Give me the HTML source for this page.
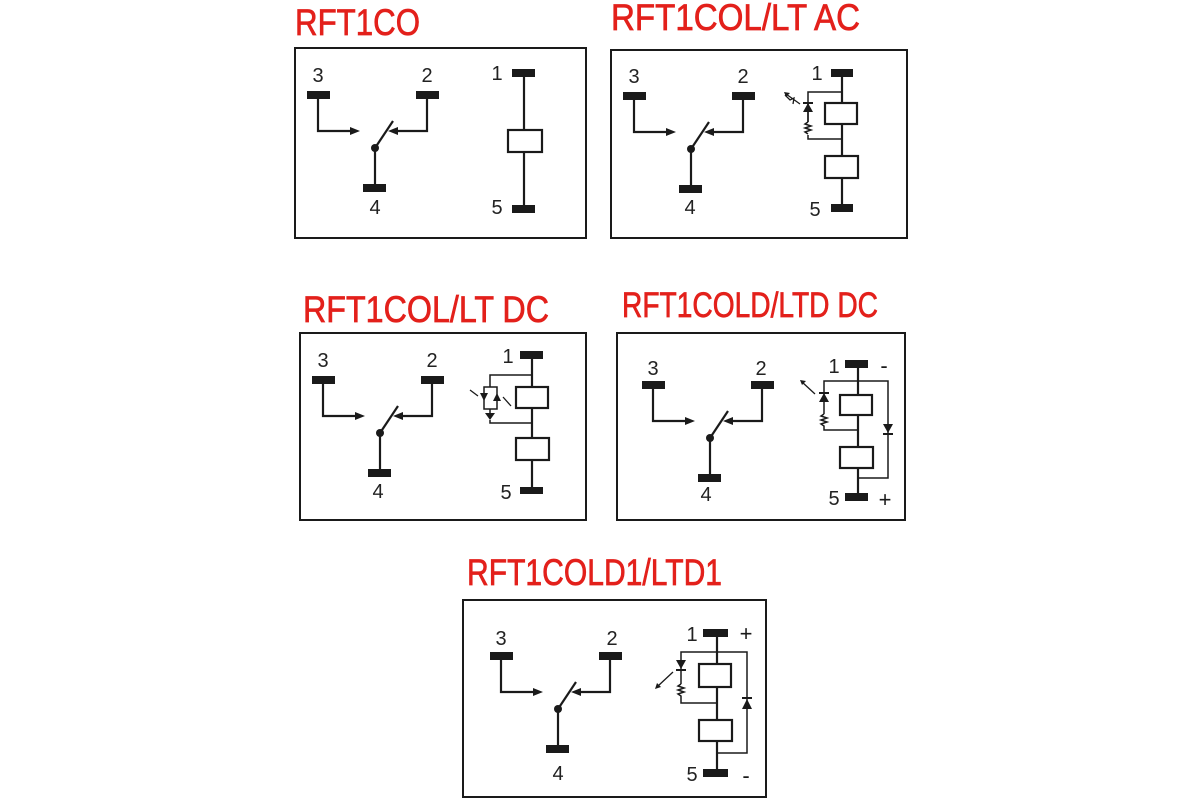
<!DOCTYPE html>
<html><head><meta charset="utf-8"><style>
html,body{margin:0;padding:0;background:#fff;width:1200px;height:800px;overflow:hidden}
svg{display:block}
.t{font-family:"Liberation Sans Narrow","Liberation Sans",sans-serif;fill:#e3201b;stroke:#e3201b;stroke-width:0.7}
.n{font-family:"Liberation Sans",sans-serif;font-size:20px;fill:#222}
.s{font-family:"Liberation Sans",sans-serif;font-size:22px;fill:#1a1a1a}
</style></head><body>
<svg width="1200" height="800" viewBox="0 0 1200 800" xmlns="http://www.w3.org/2000/svg">
<defs>
<g id="sw" stroke="#1a1a1a" stroke-width="2.2" fill="none">
  <rect x="0" y="0" width="23" height="8" fill="#1a1a1a" stroke="none"/>
  <rect x="109" y="0" width="23" height="8" fill="#1a1a1a" stroke="none"/>
  <polyline points="11,8 11,40 46,40"/>
  <polygon points="53,40 43,36 43,44" fill="#1a1a1a" stroke="none"/>
  <polyline points="120,8 120,40 88,40"/>
  <polygon points="81,40 91,36 91,44" fill="#1a1a1a" stroke="none"/>
  <line x1="68" y1="57" x2="86" y2="30"/>
  <circle cx="68" cy="57" r="4" fill="#1a1a1a" stroke="none"/>
  <line x1="68" y1="57" x2="68" y2="93"/>
  <rect x="56" y="93" width="23" height="8" fill="#1a1a1a" stroke="none"/>
</g>
<g id="led" stroke="#1a1a1a" stroke-width="1.5" fill="none">
  <polygon points="0,-5 -5,4 5,4" fill="#1a1a1a" stroke="none"/>
  <line x1="-5" y1="-5" x2="5" y2="-5" stroke-width="2"/>
</g>
</defs>

<text class="t" x="295" y="35" font-size="37" textLength="125" lengthAdjust="spacingAndGlyphs">RFT1CO</text>
<text class="t" x="611" y="30" font-size="37" textLength="249" lengthAdjust="spacingAndGlyphs">RFT1COL/LT AC</text>
<text class="t" x="303" y="322" font-size="37" textLength="246" lengthAdjust="spacingAndGlyphs">RFT1COL/LT DC</text>
<text class="t" x="622" y="317" font-size="35" textLength="256" lengthAdjust="spacingAndGlyphs">RFT1COLD/LTD DC</text>
<text class="t" x="467" y="585" font-size="37" textLength="255" lengthAdjust="spacingAndGlyphs">RFT1COLD1/LTD1</text>

<g fill="none" stroke="#1a1a1a" stroke-width="2">
<rect x="295" y="48" width="291" height="190"/>
<rect x="611" y="50" width="296" height="188"/>
<rect x="300" y="333" width="286" height="187"/>
<rect x="617" y="333" width="288" height="187"/>
<rect x="463" y="600" width="303" height="197"/>
</g>

<!-- Panel 1 -->
<use href="#sw" x="307" y="91"/>
<text class="n" x="318" y="82" text-anchor="middle">3</text>
<text class="n" x="427" y="82" text-anchor="middle">2</text>
<text class="n" x="375" y="214" text-anchor="middle">4</text>
<g stroke="#1a1a1a" stroke-width="2.2" fill="none">
<rect x="512" y="69" width="23" height="8" fill="#1a1a1a" stroke="none"/>
<line x1="524" y1="77" x2="524" y2="205"/>
<rect x="508" y="130" width="34" height="22" fill="#fff"/>
<rect x="512" y="205" width="23" height="8" fill="#1a1a1a" stroke="none"/>
</g>
<text class="n" x="497" y="80" text-anchor="middle">1</text>
<text class="n" x="497" y="214" text-anchor="middle">5</text>

<!-- Panel 2 -->
<use href="#sw" x="623" y="92"/>
<text class="n" x="634" y="83" text-anchor="middle">3</text>
<text class="n" x="743" y="83" text-anchor="middle">2</text>
<text class="n" x="690" y="214" text-anchor="middle">4</text>
<g stroke="#1a1a1a" stroke-width="2.2" fill="none">
<rect x="831" y="69" width="22" height="8" fill="#1a1a1a" stroke="none"/>
<line x1="842" y1="77" x2="842" y2="204"/>
<rect x="825" y="103" width="32" height="21" fill="#fff"/>
<rect x="825" y="156" width="33" height="22" fill="#fff"/>
<rect x="831" y="204" width="22" height="8" fill="#1a1a1a" stroke="none"/>
<polyline points="842,92 808,92 808,122" stroke-width="1.5"/>
<polyline points="808,135 808,139 842,139" stroke-width="1.5"/>
<polyline points="808,122 805,124 811,126 805,128 811,130 805,132 808,134" stroke-width="1.5"/>
<line x1="808" y1="104" x2="808" y2="122" stroke-width="1.5"/>
<use href="#led" x="808" y="108"/>
<path d="M800,104 L786,94 M793,104 L794,98 L790,100 L785,95" stroke-width="1.3"/>
<polygon points="784,92 790,93 786,97" fill="#1a1a1a" stroke="none"/>
</g>
<text class="n" x="817" y="80" text-anchor="middle">1</text>
<text class="n" x="815" y="216" text-anchor="middle">5</text>

<!-- Panel 3 -->
<use href="#sw" x="312" y="376"/>
<text class="n" x="323" y="367" text-anchor="middle">3</text>
<text class="n" x="432" y="367" text-anchor="middle">2</text>
<text class="n" x="378" y="498" text-anchor="middle">4</text>
<g stroke="#1a1a1a" stroke-width="2.2" fill="none">
<rect x="520" y="351" width="23" height="8" fill="#1a1a1a" stroke="none"/>
<line x1="532" y1="359" x2="532" y2="487"/>
<rect x="516" y="387" width="32" height="21" fill="#fff"/>
<rect x="516" y="438" width="33" height="22" fill="#fff"/>
<rect x="520" y="487" width="23" height="7" fill="#1a1a1a" stroke="none"/>
<polyline points="532,375 490,375 490,387" stroke-width="1.5"/>
<rect x="484" y="387" width="13" height="22" stroke-width="1.5"/>
<line x1="490" y1="409" x2="490" y2="413" stroke-width="1.5"/>
<polygon points="485,413 495,413 490,420" fill="#1a1a1a" stroke="none"/>
<polyline points="490,420 490,423 532,423" stroke-width="1.5"/>
<polygon points="484,401 480,393 488,393" fill="#1a1a1a" stroke="none"/>
<polygon points="497,393 493,401 501,401" fill="#1a1a1a" stroke="none"/>
<path d="M478,396 L470,390 M503,397 L511,406" stroke-width="1.3"/>
</g>
<text class="n" x="508" y="363" text-anchor="middle">1</text>
<text class="n" x="506" y="499" text-anchor="middle">5</text>

<!-- Panel 4 -->
<use href="#sw" x="642" y="381"/>
<text class="n" x="653" y="375" text-anchor="middle">3</text>
<text class="n" x="761" y="375" text-anchor="middle">2</text>
<text class="n" x="706" y="501" text-anchor="middle">4</text>
<g stroke="#1a1a1a" stroke-width="2.2" fill="none">
<rect x="845" y="360" width="23" height="8" fill="#1a1a1a" stroke="none"/>
<line x1="858" y1="368" x2="858" y2="493"/>
<rect x="840" y="395" width="32" height="20" fill="#fff"/>
<rect x="840" y="447" width="33" height="21" fill="#fff"/>
<rect x="845" y="493" width="23" height="8" fill="#1a1a1a" stroke="none"/>
<polyline points="858,381 824,381 824,414" stroke-width="1.5"/>
<polyline points="824,414 821,416 827,418 821,420 827,422 821,424 824,426 824,430 858,430" stroke-width="1.5"/>
<use href="#led" x="824" y="398"/>
<path d="M815,394 L802,382" stroke-width="1.3"/>
<polygon points="800,380 806,381 802,385" fill="#1a1a1a" stroke="none"/>
<polyline points="858,381 888,381 888,478 858,478" stroke-width="1.5"/>
<polygon points="883,424 893,424 888,433" fill="#1a1a1a" stroke="none"/>
<line x1="883" y1="434" x2="893" y2="434" stroke-width="2"/>
</g>
<text class="n" x="834" y="373" text-anchor="middle">1</text>
<text class="s" x="884" y="373" text-anchor="middle">-</text>
<text class="n" x="834" y="505" text-anchor="middle">5</text>
<text class="s" x="885" y="507" text-anchor="middle">+</text>

<!-- Panel 5 -->
<use href="#sw" x="490" y="652"/>
<text class="n" x="501" y="645" text-anchor="middle">3</text>
<text class="n" x="612" y="645" text-anchor="middle">2</text>
<text class="n" x="558" y="780" text-anchor="middle">4</text>
<g stroke="#1a1a1a" stroke-width="2.2" fill="none">
<rect x="703" y="629" width="25" height="8" fill="#1a1a1a" stroke="none"/>
<line x1="717" y1="637" x2="717" y2="769"/>
<rect x="699" y="664" width="32" height="23" fill="#fff"/>
<rect x="699" y="720" width="33" height="21" fill="#fff"/>
<rect x="703" y="769" width="25" height="8" fill="#1a1a1a" stroke="none"/>
<polyline points="717,652 681,652 681,684" stroke-width="1.5"/>
<polyline points="681,684 678,686 684,688 678,690 684,692 678,694 681,696 681,703 717,703" stroke-width="1.5"/>
<polygon points="676,660 686,660 681,669" fill="#1a1a1a" stroke="none"/>
<line x1="676" y1="670" x2="686" y2="670" stroke-width="2"/>
<path d="M673,672 L658,686" stroke-width="1.3"/>
<polygon points="655,689 657,683 661,687" fill="#1a1a1a" stroke="none"/>
<polyline points="717,652 747,652 747,753 717,753" stroke-width="1.5"/>
<polygon points="742,709 752,709 747,699" fill="#1a1a1a" stroke="none"/>
<line x1="742" y1="698" x2="752" y2="698" stroke-width="2"/>
</g>
<text class="n" x="692" y="641" text-anchor="middle">1</text>
<text class="s" x="746" y="641" text-anchor="middle">+</text>
<text class="n" x="692" y="781" text-anchor="middle">5</text>
<text class="s" x="746" y="783" text-anchor="middle">-</text>
</svg>
</body></html>
